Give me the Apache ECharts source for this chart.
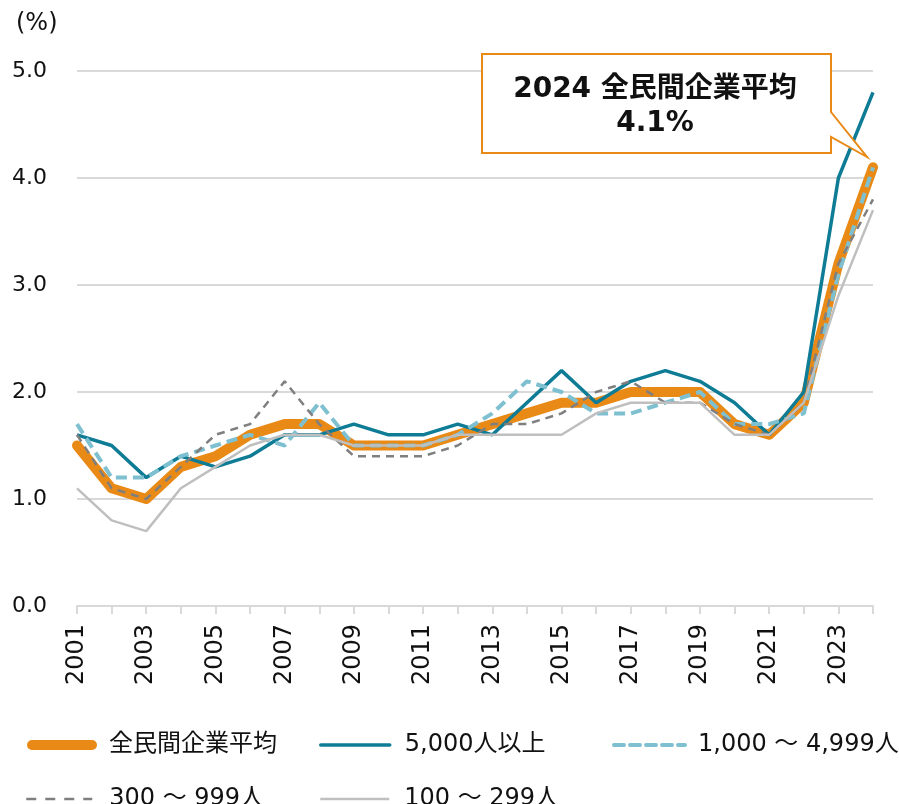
<!DOCTYPE html>
<html>
<head>
<meta charset="utf-8">
<script src="https://cdn.jsdelivr.net/npm/echarts@6/dist/echarts.min.js"></script>
<style>
  html, body { margin: 0; padding: 0; background: #fff; }
  #chart { width: 899px; height: 804px; }
</style>
</head>
<body>
<div id="chart"></div>
<script>
var years = ['2001','2002','2003','2004','2005','2006','2007','2008','2009','2010','2011','2012',
             '2013','2014','2015','2016','2017','2018','2019','2020','2021','2022','2023','2024'];
var seriesNames = ['全民間企業平均', '5,000人以上', '1,000 ～ 4,999人', '300 ～ 999人', '100 ～ 299人'];
var allAvg   = [1.5,1.1,1.0,1.3,1.4,1.6,1.7,1.7,1.5,1.5,1.5,1.6,1.7,1.8,1.9,1.9,2.0,2.0,2.0,1.7,1.6,1.9,3.2,4.1];
var over5000 = [1.6,1.5,1.2,1.4,1.3,1.4,1.6,1.6,1.7,1.6,1.6,1.7,1.6,1.9,2.2,1.9,2.1,2.2,2.1,1.9,1.6,2.0,4.0,4.8];
var from1000 = [1.7,1.2,1.2,1.4,1.5,1.6,1.5,1.9,1.5,1.5,1.5,1.6,1.8,2.1,2.0,1.8,1.8,1.9,2.0,1.7,1.7,1.8,3.1,4.1];
var from300  = [1.6,1.1,1.0,1.3,1.6,1.7,2.1,1.7,1.4,1.4,1.4,1.5,1.7,1.7,1.8,2.0,2.1,1.9,1.9,1.7,1.6,1.9,3.2,3.8];
var from100  = [1.1,0.8,0.7,1.1,1.3,1.5,1.6,1.6,1.5,1.5,1.5,1.6,1.6,1.6,1.6,1.8,1.9,1.9,1.9,1.6,1.6,1.9,2.9,3.7];
var calloutLines = ['2024 全民間企業平均', '4.1%'];

var font = '"DejaVu Sans", "Noto Sans CJK JP", sans-serif';
var colors = ['#E98A17', '#0F7C96', '#7EC0D0', '#7F7F7F', '#BFBFBF'];
var styles = [
  { width: 10, type: 'solid', cap: 'round', join: 'round' },
  { width: 3.5, type: 'solid' },
  { width: 4, type: [11, 6] },
  { width: 2.5, type: [8, 6] },
  { width: 2.5, type: 'solid' }
];
var legendStyles = [
  { width: 10, type: 'solid', cap: 'round' },
  { width: 3.5, type: 'solid', cap: 'round' },
  { width: 4, type: [10, 6], cap: 'round' },
  { width: 2.5, type: [10, 9] },
  { width: 2.5, type: 'solid' }
];
var datasets = [allAvg, over5000, from1000, from300, from100];

// legend placement: [left, top, icon width, gap before text]
var legendPos = [[27, 733, 60, 12], [319, 733, 69, 10], [612, 733, 71, 8], [25, 787, 66, 12], [319, 787, 69, 10]];

var chart = echarts.init(document.getElementById('chart'));

var option = {
  animation: false,
  textStyle: { fontFamily: font },
  title: {
    text: '(%)',
    left: 11, top: 7,
    textStyle: { fontFamily: font, fontSize: 24, fontWeight: 'normal', color: '#111' }
  },
  grid: { left: 77, right: 26, top: 71, bottom: 198, containLabel: false },
  xAxis: {
    type: 'category',
    data: years,
    boundaryGap: false,
    axisLine: { lineStyle: { color: '#d9d9d9', width: 2 } },
    axisTick: { show: true, interval: 0, length: 8, lineStyle: { color: '#d9d9d9', width: 2 } },
    axisLabel: { interval: 1, rotate: 90, margin: 18, fontSize: 24, color: '#111', fontFamily: font }
  },
  yAxis: {
    type: 'value',
    min: 0, max: 5, interval: 1,
    axisLine: { show: false },
    axisTick: { show: false },
    axisLabel: {
      fontSize: 22, color: '#111', fontFamily: font, align: 'left', margin: 65,
      formatter: function (v) { return v.toFixed(1); }
    },
    splitLine: { lineStyle: { color: '#d9d9d9', width: 2 } }
  },
  legend: seriesNames.map(function (n, i) {
    var p = legendPos[i];
    return {
      data: [n],
      left: p[0], top: p[1],
      padding: 0,
      itemWidth: p[2], itemHeight: 14,
      itemStyle: { opacity: 0 },
      lineStyle: Object.assign({ color: colors[i] }, legendStyles[i]),
      textStyle: { fontSize: 24, color: '#111', fontFamily: font, padding: [0, 0, 0, p[3]] }
    };
  }),
  series: seriesNames.map(function (n, i) {
    return {
      name: n,
      type: 'line',
      data: datasets[i],
      symbol: 'none',
      color: colors[i],
      lineStyle: Object.assign({ color: colors[i] }, styles[i]),
      z: 2 + i
    };
  }),
  graphic: [
    {
      type: 'polygon',
      z: 100,
      shape: { points: [[482, 54], [831, 54], [831, 112], [867, 157], [831, 137], [831, 153], [482, 153]] },
      style: { fill: '#fff', stroke: '#E98A17', lineWidth: 2 }
    },
    {
      type: 'text', z: 101, x: 655, y: 90,
      style: { text: calloutLines[0], font: 'bold 28px ' + font, fill: '#111', align: 'center', verticalAlign: 'middle' }
    },
    {
      type: 'text', z: 101, x: 655, y: 124,
      style: { text: calloutLines[1], font: 'bold 28px ' + font, fill: '#111', align: 'center', verticalAlign: 'middle' }
    }
  ]
};

chart.setOption(option);
</script>
</body>
</html>
